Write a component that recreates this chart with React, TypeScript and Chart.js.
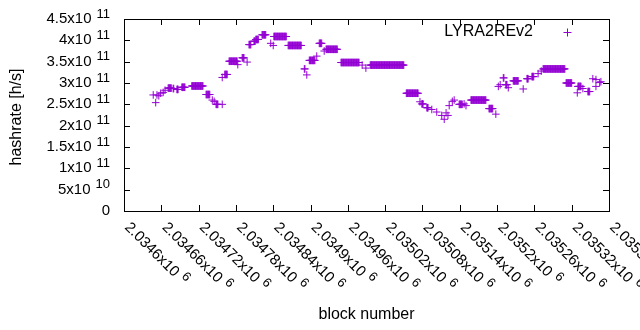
import React, { useEffect, useRef } from "react";
import { Chart, registerables } from "chart.js";

Chart.register(...registerables);

// Runs of blocks with a constant estimated hashrate (h/s)
const runStart = [
  2034647, 2034651, 2034653, 2034656, 2034659, 2034663, 2034666, 2034671, 2034679, 2034685,
  2034693, 2034709, 2034732, 2034742, 2034745, 2034748, 2034758, 2034758, 2034762, 2034769,
  2034783, 2034790, 2034798, 2034801, 2034809, 2034812, 2034822, 2034836, 2034840, 2034841,
  2034864, 2034890, 2034894, 2034898, 2034910, 2034914, 2034922, 2034925, 2034949, 2034983,
  2034989, 2034996, 2035054, 2035076, 2035079, 2035087, 2035095, 2035103, 2035111, 2035115,
  2035118, 2035121, 2035123, 2035128, 2035131, 2035139, 2035147, 2035150, 2035158, 2035187,
  2035198, 2035202, 2035205, 2035210, 2035214, 2035218, 2035226, 2035242, 2035248, 2035256,
  2035266, 2035271, 2035274, 2035311, 2035329, 2035330, 2035338, 2035346, 2035354, 2035359,
  2035359, 2035365, 2035367,
];
const runEnd = [
  2034647, 2034651, 2034653, 2034656, 2034659, 2034663, 2034666, 2034676, 2034680, 2034687,
  2034698, 2034727, 2034738, 2034742, 2034745, 2034751, 2034758, 2034758, 2034766, 2034782,
  2034783, 2034793, 2034798, 2034804, 2034811, 2034816, 2034828, 2034836, 2034840, 2034861,
  2034885, 2034891, 2034894, 2034907, 2034910, 2034918, 2034922, 2034943, 2034978, 2034983,
  2034989, 2035050, 2035073, 2035076, 2035081, 2035089, 2035095, 2035103, 2035111, 2035115,
  2035118, 2035121, 2035123, 2035128, 2035131, 2035144, 2035147, 2035150, 2035182, 2035193,
  2035198, 2035202, 2035205, 2035211, 2035216, 2035218, 2035234, 2035242, 2035250, 2035259,
  2035266, 2035271, 2035309, 2035320, 2035329, 2035335, 2035338, 2035349, 2035354, 2035359,
  2035359, 2035365, 2035367,
];
const runValue = [
  2.72e11, 2.54e11, 2.72e11, 2.70e11, 2.76e11, 2.78e11, 2.83e11, 2.88e11, 2.87e11, 2.85e11,
  2.90e11, 2.93e11, 2.73e11, 2.60e11, 2.57e11, 2.50e11, 2.50e11, 3.13e11, 3.20e11, 3.51e11,
  3.43e11, 3.59e11, 3.49e11, 3.90e11, 3.98e11, 4.02e11, 4.13e11, 3.93e11, 3.88e11, 4.09e11,
  3.88e11, 3.33e11, 3.19e11, 3.53e11, 3.63e11, 3.93e11, 3.75e11, 3.79e11, 3.48e11, 3.42e11,
  3.35e11, 3.42e11, 2.76e11, 2.56e11, 2.51e11, 2.42e11, 2.38e11, 2.32e11, 2.24e11, 2.15e11,
  2.30e11, 2.24e11, 2.47e11, 2.57e11, 2.60e11, 2.50e11, 2.51e11, 2.47e11, 2.60e11, 2.40e11,
  2.27e11, 2.92e11, 2.96e11, 3.12e11, 2.96e11, 2.89e11, 3.05e11, 2.86e11, 3.10e11, 3.15e11,
  3.22e11, 3.28e11, 3.33e11, 3.00e11, 2.77e11, 2.92e11, 2.87e11, 2.80e11, 3.10e11, 3.08e11,
  2.92e11, 3.01e11, 3.03e11,
];

const xMin = 2034600;
const xMax = 2035380;
const xTickValues = [
  2034600, 2034660, 2034720, 2034780, 2034840, 2034900, 2034960,
  2035020, 2035080, 2035140, 2035200, 2035260, 2035320, 2035380,
];
const xTickLabels = [
  "2.0346", "2.03466", "2.03472", "2.03478", "2.03484", "2.0349", "2.03496",
  "2.03502", "2.03508", "2.03514", "2.0352", "2.03526", "2.03532", "2.03538",
];
const xTickExp = "6";

const yMin = 0;
const yMax = 4.5e11;
const yTickValues = [0, 5e10, 1e11, 1.5e11, 2e11, 2.5e11, 3e11, 3.5e11, 4e11, 4.5e11];
const yTickMantissa = ["0", "5", "1", "1.5", "2", "2.5", "3", "3.5", "4", "4.5"];
const yTickExp = ["", "10", "11", "11", "11", "11", "11", "11", "11", "11"];

const seriesName = "LYRA2REv2";
const xTitle = "block number";
const yTitle = "hashrate [h/s]";

const COLOR = "#9400d3";
const FONT_MAIN = '16px "Liberation Sans", Arial, sans-serif';
const FONT_TICK = '15px "Liberation Sans", Arial, sans-serif';
const FONT_SUP = '13px "Liberation Sans", Arial, sans-serif';

const decorPlugin = {
  id: "gnuplotDecor",
  afterDraw(chart: any) {
    const ctx = chart.ctx as CanvasRenderingContext2D;
    const { left, right, top, bottom } = chart.chartArea;
    const xs = chart.scales.x;
    const ys = chart.scales.y;
    ctx.save();
    ctx.strokeStyle = "#000";
    ctx.lineWidth = 1;
    // border
    ctx.strokeRect(Math.round(left) + 0.5, Math.round(top) + 0.5, Math.round(right - left), Math.round(bottom - top));
    // ticks
    ctx.beginPath();
    const tl = 6;
    yTickValues.forEach((v) => {
      const y = Math.round(ys.getPixelForValue(v)) + 0.5;
      ctx.moveTo(left, y);
      ctx.lineTo(left + tl, y);
      ctx.moveTo(right, y);
      ctx.lineTo(right - tl, y);
    });
    xTickValues.forEach((v) => {
      const x = Math.round(xs.getPixelForValue(v)) + 0.5;
      ctx.moveTo(x, bottom);
      ctx.lineTo(x, bottom - tl);
      ctx.moveTo(x, top);
      ctx.lineTo(x, top + tl);
    });
    ctx.stroke();

    ctx.fillStyle = "#000";
    // y tick labels
    ctx.textBaseline = "middle";
    ctx.textAlign = "right";
    const yLabelRight = 110;
    yTickValues.forEach((v, i) => {
      const y = ys.getPixelForValue(v);
      const exp = yTickExp[i];
      if (!exp) {
        ctx.font = FONT_TICK;
        ctx.fillText(yTickMantissa[i], yLabelRight, y);
      } else {
        ctx.font = FONT_SUP;
        const sw = ctx.measureText(exp).width;
        ctx.fillText(exp, yLabelRight, y - 5);
        ctx.font = FONT_TICK;
        ctx.fillText(yTickMantissa[i] + "x10", yLabelRight - sw - 5, y);
      }
    });

    // x tick labels (rotated, gnuplot style)
    xTickValues.forEach((v, i) => {
      const x = xs.getPixelForValue(v);
      ctx.save();
      ctx.translate(x + 3, bottom + 14);
      ctx.rotate(Math.PI / 4);
      ctx.textAlign = "left";
      ctx.textBaseline = "middle";
      ctx.font = FONT_TICK;
      const txt = xTickLabels[i] + "x10";
      ctx.fillText(txt, 0, 0);
      const w = ctx.measureText(txt).width;
      ctx.font = FONT_SUP;
      ctx.fillText(xTickExp, w + 5, -5);
      ctx.restore();
    });

    // axis titles
    ctx.font = FONT_MAIN;
    ctx.textAlign = "center";
    ctx.textBaseline = "middle";
    ctx.fillText(xTitle, (left + right) / 2, 315);
    ctx.save();
    ctx.translate(17, 117);
    ctx.rotate(-Math.PI / 2);
    ctx.fillText(yTitle, 0, 0);
    ctx.restore();

    // legend
    ctx.textAlign = "right";
    ctx.fillText(seriesName, 533, 32);
    ctx.strokeStyle = COLOR;
    ctx.beginPath();
    ctx.moveTo(563.5, 32.5);
    ctx.lineTo(571.5, 32.5);
    ctx.moveTo(567.5, 28.5);
    ctx.lineTo(567.5, 36.5);
    ctx.stroke();
    ctx.restore();
  },
};

export default function App() {
  const ref = useRef<HTMLCanvasElement | null>(null);
  useEffect(() => {
    if (!ref.current) return;
    const points: { x: number; y: number }[] = [];
    runStart.forEach((s, i) => {
      for (let b = s; b <= runEnd[i]; b++) points.push({ x: b, y: runValue[i] });
    });
    const chart = new Chart(ref.current, {
      type: "scatter",
      data: {
        datasets: [
          {
            label: seriesName,
            data: points,
            pointStyle: "cross",
            pointRadius: 3.8,
            pointHoverRadius: 3.8,
            borderColor: COLOR,
            backgroundColor: COLOR,
            borderWidth: 1,
            showLine: false,
          },
        ],
      },
      options: {
        responsive: false,
        animation: false,
        devicePixelRatio: 1,
        layout: { padding: { top: 19, right: 31, left: 0, bottom: 0 } },
        plugins: { legend: { display: false }, tooltip: { enabled: false } },
        events: [],
        scales: {
          x: {
            type: "linear",
            min: xMin,
            max: xMax,
            ticks: { display: false },
            grid: { display: false },
            border: { display: false },
            afterFit: (s: any) => {
              s.height = 119;
            },
          },
          y: {
            type: "linear",
            min: yMin,
            max: yMax,
            ticks: { display: false },
            grid: { display: false },
            border: { display: false },
            afterFit: (s: any) => {
              s.width = 124;
            },
          },
        },
      },
      plugins: [decorPlugin],
    } as any);
    return () => chart.destroy();
  }, []);
  return (
    <div style={{ position: "absolute", left: 0, top: 0, width: 640, height: 330, background: "#fff" }}>
      <canvas ref={ref} width={640} height={330} />
    </div>
  );
}
